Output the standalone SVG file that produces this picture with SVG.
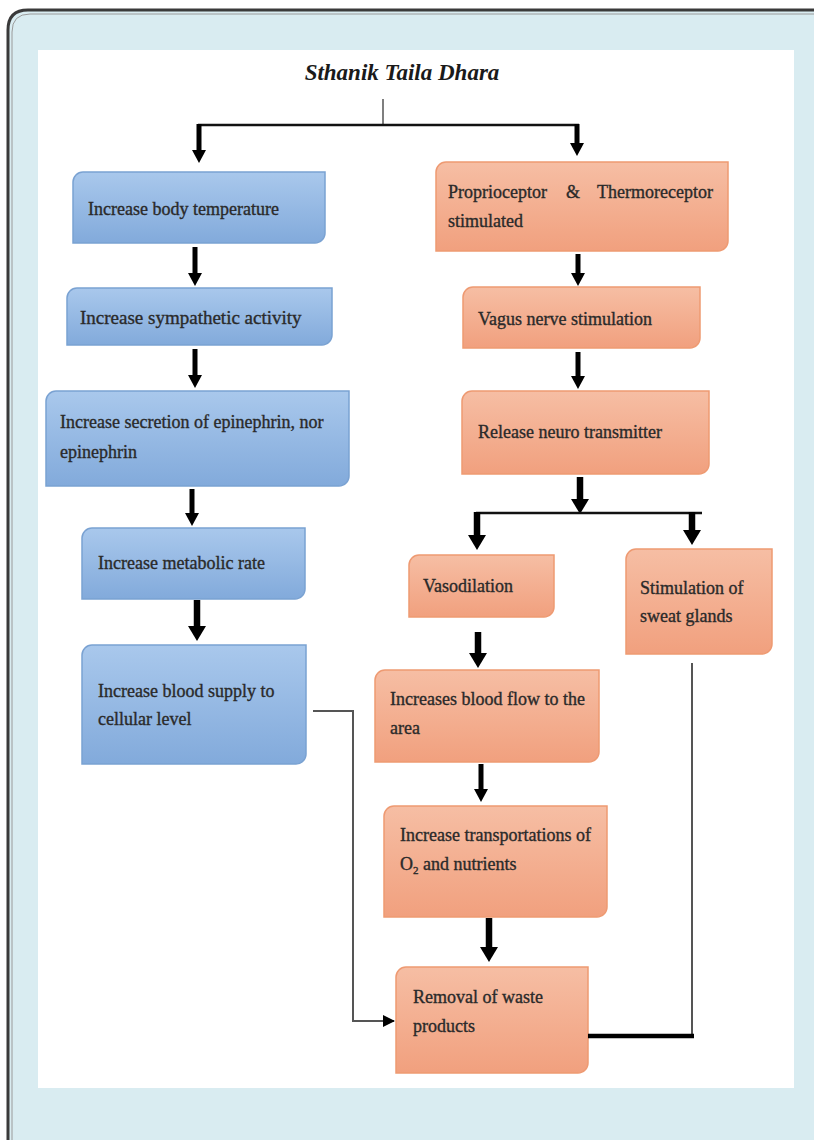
<svg xmlns="http://www.w3.org/2000/svg" width="814" height="1140" viewBox="0 0 814 1140">
<defs>
<linearGradient id="gBlue" x1="0" y1="0" x2="0" y2="1">
<stop offset="0" stop-color="#a9c8ec"/>
<stop offset="1" stop-color="#82aadb"/>
</linearGradient>
<linearGradient id="gOrange" x1="0" y1="0" x2="0" y2="1">
<stop offset="0" stop-color="#f6bea4"/>
<stop offset="1" stop-color="#f1a07e"/>
</linearGradient>
<marker id="head" markerUnits="userSpaceOnUse" markerWidth="14" markerHeight="16" refX="0" refY="8" orient="auto" viewBox="0 0 14 16">
<path d="M0,1 L0,15 L13,8 Z" fill="#000"/>
</marker>
<marker id="bighead" markerUnits="userSpaceOnUse" markerWidth="16" markerHeight="20" refX="0" refY="10" orient="auto" viewBox="0 0 16 20">
<path d="M0,1 L0,19 L15,10 Z" fill="#000"/>
</marker>
<marker id="thin" markerUnits="userSpaceOnUse" markerWidth="12" markerHeight="12" refX="11" refY="6" orient="auto" viewBox="0 0 12 12">
<path d="M0,0 L12,6 L0,12 Z" fill="#000"/>
</marker>
</defs>
<style>
.blue{fill:url(#gBlue);stroke:#7aa2d2;stroke-width:1.5}
.orange{fill:url(#gOrange);stroke:#ee9a72;stroke-width:1.5}
.t{font-family:"Liberation Serif","DejaVu Serif",serif;font-size:18px;fill:#2a2a2a;stroke:#2a2a2a;stroke-width:0.35}
.arrow{stroke:#000;stroke-width:5;fill:none;marker-end:url(#head)}
.bigarrow{stroke:#000;stroke-width:6.5;fill:none;marker-end:url(#bighead)}
.line{stroke:#111;stroke-width:2.5;fill:none}
.gray{stroke:#555;stroke-width:2;fill:none}
</style>
<rect x="0" y="0" width="814" height="1140" fill="#ffffff"/>
<path d="M8,1140 V30 Q8,10 28,10 H814 V1140 Z" fill="#d9ecf1"/>
<path d="M8,1140 V30 Q8,10 28,10 H814" fill="none" stroke="#3a3a3a" stroke-width="3"/>
<path d="M12,1140 V32 Q12,14 30,14 H814" fill="none" stroke="#9a9a9a" stroke-width="1"/>
<rect x="38" y="50" width="756" height="1038" fill="#ffffff"/>
<g id="title">
<text x="402" y="80" text-anchor="middle" style="font-family:'Liberation Serif','DejaVu Serif',serif;font-size:23px;font-style:italic;font-weight:bold;fill:#1a1a1a">Sthanik Taila Dhara</text>
</g>
<g id="b1"><path class="blue" d="M83,172 H325 V233 A10,10 0 0 1 315,243 H73 V182 A10,10 0 0 1 83,172 Z"/><text class="t" x="88" y="215">Increase body temperature</text></g>
<g id="b2"><path class="blue" d="M77,288 H332 V335 A10,10 0 0 1 322,345 H67 V298 A10,10 0 0 1 77,288 Z"/><text class="t" x="80" y="324" style="font-size:19px">Increase  sympathetic activity</text></g>
<g id="b3"><path class="blue" d="M56,391 H349 V476 A10,10 0 0 1 339,486 H46 V401 A10,10 0 0 1 56,391 Z"/><text class="t" x="60" y="428">Increase secretion of epinephrin, nor</text><text class="t" x="60" y="458">epinephrin</text></g>
<g id="b4"><path class="blue" d="M92,528 H305 V589 A10,10 0 0 1 295,599 H82 V538 A10,10 0 0 1 92,528 Z"/><text class="t" x="98" y="569">Increase metabolic rate</text></g>
<g id="b5"><path class="blue" d="M92,645 H306 V754 A10,10 0 0 1 296,764 H82 V655 A10,10 0 0 1 92,645 Z"/><text class="t" x="98" y="697">Increase blood supply to</text><text class="t" x="98" y="725">cellular level</text></g>
<g id="o1"><path class="orange" d="M446,162 H728 V241 A10,10 0 0 1 718,251 H436 V172 A10,10 0 0 1 446,162 Z"/><text class="t" x="448" y="198">Proprioceptor</text><text class="t" x="566" y="198">&amp;</text><text class="t" x="713" y="198" text-anchor="end">Thermoreceptor</text><text class="t" x="448" y="227">stimulated</text></g>
<g id="o2"><path class="orange" d="M473,287 H700 V338 A10,10 0 0 1 690,348 H463 V297 A10,10 0 0 1 473,287 Z"/><text class="t" x="478" y="325">Vagus nerve stimulation</text></g>
<g id="o3"><path class="orange" d="M472,391 H709 V464 A10,10 0 0 1 699,474 H462 V401 A10,10 0 0 1 472,391 Z"/><text class="t" x="478" y="438">Release neuro transmitter</text></g>
<g id="o4"><path class="orange" d="M419,555 H554 V607 A10,10 0 0 1 544,617 H409 V565 A10,10 0 0 1 419,555 Z"/><text class="t" x="423" y="592">Vasodilation</text></g>
<g id="o5"><path class="orange" d="M636,549 H772 V644 A10,10 0 0 1 762,654 H626 V559 A10,10 0 0 1 636,549 Z"/><text class="t" x="640" y="594">Stimulation of</text><text class="t" x="640" y="622">sweat glands</text></g>
<g id="o6"><path class="orange" d="M385,670 H599 V752 A10,10 0 0 1 589,762 H375 V680 A10,10 0 0 1 385,670 Z"/><text class="t" x="390" y="705">Increases blood flow to the</text><text class="t" x="390" y="734">area</text></g>
<g id="o7"><path class="orange" d="M394,806 H607 V907 A10,10 0 0 1 597,917 H384 V816 A10,10 0 0 1 394,806 Z"/><text class="t" x="400" y="841">Increase transportations of</text><text class="t" x="400" y="870">O<tspan style="font-size:11px" dy="4">2</tspan><tspan dy="-4"> and nutrients</tspan></text></g>
<g id="o8"><path class="orange" d="M406,967 H588 V1063 A10,10 0 0 1 578,1073 H396 V977 A10,10 0 0 1 406,967 Z"/><text class="t" x="413" y="1003">Removal of waste</text><text class="t" x="413" y="1032">products</text></g>
<g id="connectors">
<line class="gray" x1="383" y1="99" x2="383" y2="125" style="stroke-width:1.5"/>
<line class="line" x1="198" y1="125" x2="579" y2="125"/>
<line class="arrow" x1="199" y1="124" x2="199" y2="150"/>
<line class="arrow" x1="577" y1="124" x2="577" y2="143"/>
<line class="arrow" x1="195" y1="247" x2="195" y2="273"/>
<line class="arrow" x1="195" y1="349" x2="195" y2="375"/>
<line class="arrow" x1="192" y1="489" x2="192" y2="513"/>
<line class="bigarrow" x1="197" y1="600" x2="197" y2="626"/>
<line class="arrow" x1="578" y1="254" x2="578" y2="273"/>
<line class="arrow" x1="578" y1="352" x2="578" y2="376"/>
<line class="bigarrow" x1="580" y1="477" x2="580" y2="499"/>
<line class="line" x1="476" y1="513" x2="702" y2="513"/>
<line class="bigarrow" x1="477" y1="512" x2="477" y2="535"/>
<line class="bigarrow" x1="692" y1="512" x2="692" y2="530"/>
<line class="bigarrow" x1="478" y1="632" x2="478" y2="653"/>
<line class="arrow" x1="481" y1="764" x2="481" y2="789"/>
<line class="bigarrow" x1="489" y1="918" x2="489" y2="947"/>
<polyline class="gray" points="313,711 353,711 353,1021 394,1021" marker-end="url(#thin)"/>
<polyline class="gray" points="692,663 692,1036"/>
<line x1="588" y1="1036" x2="694" y2="1036" stroke="#000" stroke-width="4.5"/>
</g>
</svg>
